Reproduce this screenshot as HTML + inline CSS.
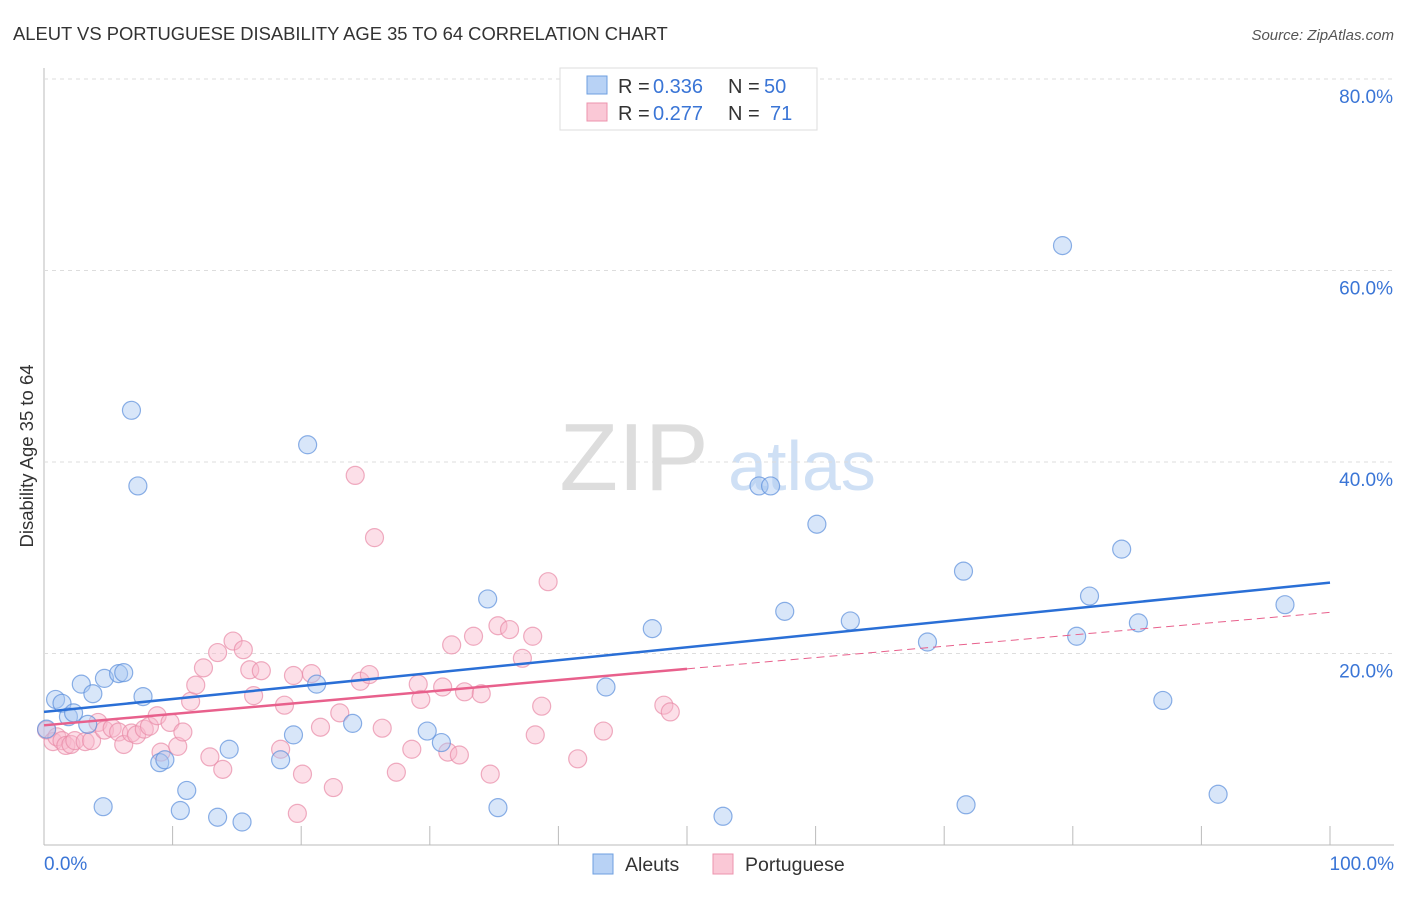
<!DOCTYPE html>
<html><head><meta charset="utf-8"><style>
body{margin:0;background:#fff;font-family:"Liberation Sans",sans-serif}
svg text{font-family:"Liberation Sans",sans-serif}
</style></head><body>
<svg id="c" width="1406" height="892">
<text x="13" y="40" font-size="18.4" fill="#333">ALEUT VS PORTUGUESE DISABILITY AGE 35 TO 64 CORRELATION CHART</text>
<text x="1394" y="40" font-size="15" fill="#555" font-style="italic" text-anchor="end">Source: ZipAtlas.com</text>
<text x="33" y="456" font-size="18.5" fill="#333" text-anchor="middle" transform="rotate(-90 33 456)">Disability Age 35 to 64</text>
<g><text x="634" y="490" font-size="96" fill="#ddd" font-family="Liberation Serif" text-anchor="middle">ZIP</text><text x="802" y="490" font-size="70" fill="#cfe0f5" text-anchor="middle">atlas</text></g>
<g id="grid"></g><g id="marks"></g>
<g>
<rect x="560" y="68" width="257" height="62" fill="#fff" stroke="#ddd"/>
<rect x="587" y="76" width="20" height="18" fill="#b8d2f5" stroke="#6e9fe0"/>
<rect x="587" y="103" width="20" height="18" fill="#fac8d6" stroke="#ec93ad"/>
<text x="618" y="93" font-size="20" fill="#333">R =</text><text x="653" y="93" font-size="20" fill="#3a75d6">0.336</text>
<text x="728" y="93" font-size="20" fill="#333">N =</text><text x="764" y="93" font-size="20" fill="#3a75d6">50</text>
<text x="618" y="120" font-size="20" fill="#333">R =</text><text x="653" y="120" font-size="20" fill="#3a75d6">0.277</text>
<text x="728" y="120" font-size="20" fill="#333">N =</text><text x="770" y="120" font-size="20" fill="#3a75d6">71</text>
</g>
<g>
<rect x="593" y="854" width="20" height="20" fill="#b8d2f5" stroke="#6e9fe0"/>
<text x="625" y="871" font-size="19.5" fill="#333">Aleuts</text>
<rect x="713" y="854" width="20" height="20" fill="#fac8d6" stroke="#ec93ad"/>
<text x="745" y="871" font-size="19.5" fill="#333">Portuguese</text>
</g>
</svg>
<script>
const yTicks=[20,40,60,80];
const yTickLabels=["20.0%","40.0%","60.0%","80.0%"];
const blueX=[0.9,1.4,0.2,1.9,2.3,2.9,3.8,4.7,5.8,6.2,7.7,3.4,4.6,6.8,7.3,9.0,9.4,10.6,11.1,13.5,14.4,15.4,18.4,19.4,20.5,21.2,24.0,29.8,30.9,34.5,35.3,43.7,47.3,52.8,55.6,56.5,57.6,60.1,62.7,68.7,71.5,71.7,79.2,80.3,81.3,83.8,85.1,87.0,91.3,96.5];
const blueY=[15.2,14.8,12.1,13.4,13.8,16.8,15.8,17.4,17.9,18.0,15.5,12.6,4.0,45.4,37.5,8.6,8.9,3.6,5.7,2.9,10.0,2.4,8.9,11.5,41.8,16.8,12.7,11.9,10.7,25.7,3.9,16.5,22.6,3.0,37.5,37.5,24.4,33.5,23.4,21.2,28.6,4.2,62.6,21.8,26.0,30.9,23.2,15.1,5.3,25.1];
const pinkX=[0.2,0.7,1.0,1.4,1.7,2.1,2.4,3.2,3.7,4.2,4.7,5.3,5.8,6.2,6.8,7.2,7.8,8.2,8.8,9.1,9.8,10.4,10.8,11.4,11.8,12.4,12.9,13.5,13.9,14.7,15.5,16.0,16.3,16.9,18.7,18.4,19.4,19.7,20.1,20.8,21.5,22.5,23.0,24.2,24.6,25.3,25.7,26.3,27.4,28.6,29.1,29.3,31.0,31.4,31.7,32.3,32.7,33.4,34.0,34.7,35.3,36.2,37.2,38.0,38.2,38.7,39.2,41.5,43.5,48.2,48.7];
const pinkY=[12.0,10.8,11.3,10.9,10.4,10.5,10.9,10.8,10.9,12.8,12.0,12.2,11.8,10.5,11.7,11.5,12.1,12.4,13.5,9.7,12.8,10.3,11.8,15.0,16.7,18.5,9.2,20.1,7.9,21.3,20.4,18.3,15.6,18.2,14.6,10.0,17.7,3.3,7.4,17.9,12.3,6.0,13.8,38.6,17.1,17.8,32.1,12.2,7.6,10.0,16.8,15.2,16.5,9.7,20.9,9.4,16.0,21.8,15.8,7.4,22.9,22.5,19.5,21.8,11.5,14.5,27.5,9.0,11.9,14.6,13.9];
const blueTrend=[13.9,27.4];
const pinkTrend=[12.5,24.3];
const pinkSolidEnd=50;
const NS="http://www.w3.org/2000/svg";
const xs=v=>44+v*12.86, ys=v=>845-v*9.575;
function mk(t,a,p){const e=document.createElementNS(NS,t);for(const k in a)e.setAttribute(k,a[k]);p.appendChild(e);return e;}
const g=document.getElementById('grid'),m=document.getElementById('marks');
let ax=mk('line',{x1:44,y1:68,x2:44,y2:845,stroke:'#bbb'},g);


let bx=mk('line',{x1:44,y1:845,x2:1394,y2:845,stroke:'#bbb'},g);


yTicks.forEach((t,i)=>{
 let l=mk('line',{x1:44,y1:ys(t),x2:1394,y2:ys(t),stroke:'#ddd','stroke-dasharray':'4,4'},g);
 
 
 let tx=mk('text',{x:1393,y:ys(t)+24,'font-size':19,fill:'#3a75d6','text-anchor':'end'},g);
 tx.textContent=yTickLabels[i];
 
 
});
for(let i=1;i<=10;i++){let l=mk('line',{x1:xs(i*10),y1:826,x2:xs(i*10),y2:845,stroke:'#bbb'},g);
 
 }
let t0=mk('text',{x:44,y:870,'font-size':19,fill:'#3a75d6'},g);t0.textContent='0.0%';


let t1=mk('text',{x:1394,y:870,'font-size':19,fill:'#3a75d6','text-anchor':'end'},g);t1.textContent='100.0%';


function pts(X,Y,f,s,n){X.forEach((x,i)=>{let c=mk('circle',{cx:xs(x),cy:ys(Y[i]),r:9,fill:f,'fill-opacity':0.45,stroke:s,'stroke-opacity':0.7,'stroke-width':1.2},m);
 
 });}
pts(pinkX,pinkY,'#f8b8cb','#e88aa6','portuguese-point');
pts(blueX,blueY,'#a9c8f2','#5b8fdc','aleut-point');
let bl=mk('line',{x1:xs(0),y1:ys(blueTrend[0]),x2:xs(100),y2:ys(blueTrend[1]),stroke:'#2a6fd6','stroke-width':2.5},m);


const pe=pinkTrend[0]+(pinkTrend[1]-pinkTrend[0])*pinkSolidEnd/100;
let pl=mk('line',{x1:xs(0),y1:ys(pinkTrend[0]),x2:xs(pinkSolidEnd),y2:ys(pe),stroke:'#e8608c','stroke-width':2.5},m);


let pd=mk('line',{x1:xs(pinkSolidEnd),y1:ys(pe),x2:xs(100),y2:ys(pinkTrend[1]),stroke:'#e8608c','stroke-width':1,'stroke-dasharray':'8,5'},m);


</script>
</body></html>
